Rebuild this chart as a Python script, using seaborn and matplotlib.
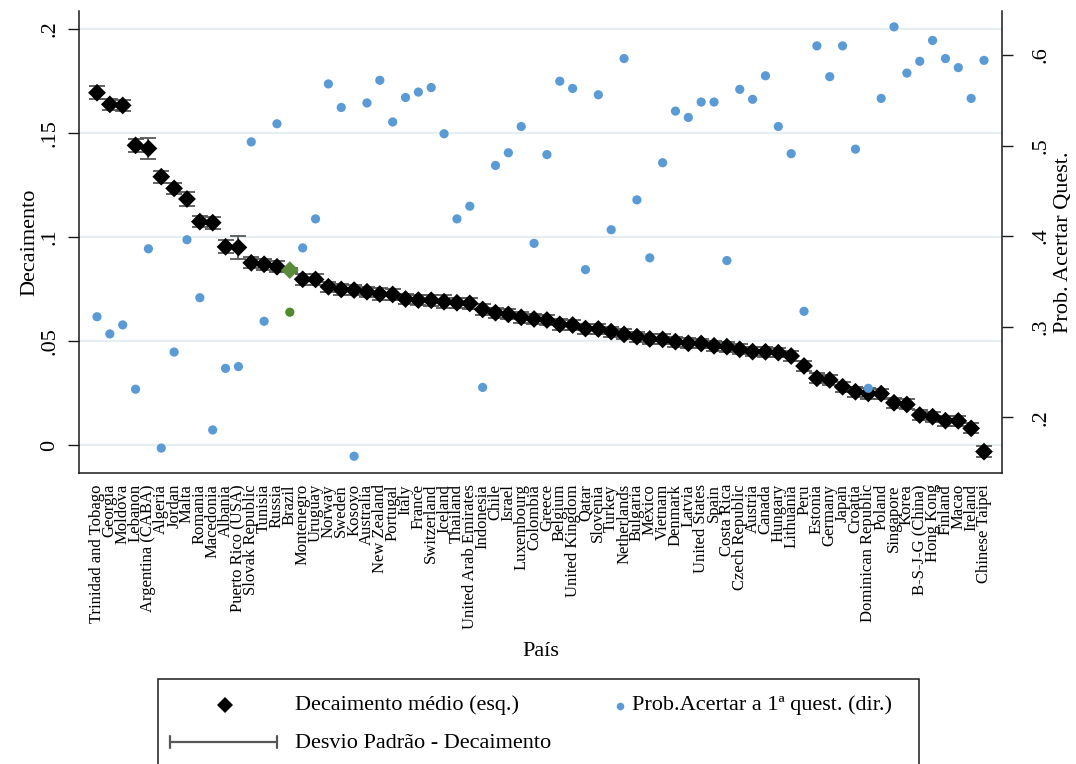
import numpy as np
import pandas as pd
import matplotlib
matplotlib.use("Agg")
import matplotlib.pyplot as plt
from matplotlib.lines import Line2D
from matplotlib.patches import Rectangle
import seaborn as sns

# ---- data ----
paises = [
    "Trinidad and Tobago", "Georgia", "Moldova", "Lebanon", "Argentina (CABA)",
    "Algeria", "Jordan", "Malta", "Romania", "Macedonia",
    "Albania", "Puerto Rico (USA)", "Slovak Republic", "Tunisia", "Russia",
    "Brazil", "Montenegro", "Uruguay", "Norway", "Sweden",
    "Kosovo", "Australia", "New Zealand", "Portugal", "Italy",
    "France", "Switzerland", "Iceland", "Thailand", "United Arab Emirates",
    "Indonesia", "Chile", "Israel", "Luxembourg", "Colombia",
    "Greece", "Belgium", "United Kingdom", "Qatar", "Slovenia",
    "Turkey", "Netherlands", "Bulgaria", "Mexico", "Vietnam",
    "Denmark", "Latvia", "United States", "Spain", "Costa Rica",
    "Czech Republic", "Austria", "Canada", "Hungary", "Lithuania",
    "Peru", "Estonia", "Germany", "Japan", "Croatia",
    "Dominican Republic", "Poland", "Singapore", "Korea", "B-S-J-G (China)",
    "Hong Kong", "Finland", "Macao", "Ireland", "Chinese Taipei",
]

decaimento = [
    0.1694, 0.1638, 0.1633, 0.1441, 0.1426,
    0.1290, 0.1234, 0.1183, 0.1074, 0.1069,
    0.0953, 0.0950, 0.0876, 0.0869, 0.0857,
    0.0841, 0.0797, 0.0796, 0.0761, 0.0748,
    0.0745, 0.0737, 0.0726, 0.0724, 0.0702,
    0.0697, 0.0696, 0.0689, 0.0684, 0.0681,
    0.0652, 0.0636, 0.0628, 0.0614, 0.0606,
    0.0601, 0.0580, 0.0577, 0.0560, 0.0558,
    0.0545, 0.0532, 0.0521, 0.0510, 0.0508,
    0.0497, 0.0489, 0.0488, 0.0477, 0.0473,
    0.0460, 0.0449, 0.0448, 0.0444, 0.0428,
    0.0380, 0.0321, 0.0313, 0.0280, 0.0256,
    0.0248, 0.0247, 0.0203, 0.0195, 0.0144,
    0.0136, 0.0117, 0.0116, 0.0080, -0.0032,
]

desvio = [
    0.0032, 0.0028, 0.0028, 0.0032, 0.0052,
    0.0030, 0.0028, 0.0032, 0.0028, 0.0028,
    0.0032, 0.0056, 0.0026, 0.0026, 0.0026,
    0.0008, 0.0026, 0.0026, 0.0025, 0.0025,
    0.0026, 0.0025, 0.0028, 0.0025, 0.0025,
    0.0025, 0.0026, 0.0030, 0.0025, 0.0025,
    0.0025, 0.0024, 0.0024, 0.0025, 0.0024,
    0.0024, 0.0025, 0.0024, 0.0024, 0.0024,
    0.0024, 0.0024, 0.0024, 0.0023, 0.0024,
    0.0024, 0.0024, 0.0023, 0.0024, 0.0024,
    0.0024, 0.0023, 0.0024, 0.0023, 0.0024,
    0.0023, 0.0024, 0.0023, 0.0024, 0.0024,
    0.0026, 0.0024, 0.0024, 0.0024, 0.0024,
    0.0024, 0.0024, 0.0024, 0.0024, 0.0025,
]

prob_acertar = [
    0.311, 0.292, 0.302, 0.231, 0.386,
    0.166, 0.272, 0.396, 0.332, 0.186,
    0.254, 0.256, 0.504, 0.306, 0.524,
    0.316, 0.387, 0.419, 0.568, 0.542,
    0.157, 0.547, 0.572, 0.526, 0.553,
    0.559, 0.564, 0.513, 0.419, 0.433,
    0.233, 0.478, 0.492, 0.521, 0.392,
    0.490, 0.571, 0.563, 0.363, 0.556,
    0.407, 0.596, 0.440, 0.376, 0.481,
    0.538, 0.531, 0.548, 0.548, 0.373,
    0.562, 0.551, 0.577, 0.521, 0.491,
    0.317, 0.610, 0.576, 0.610, 0.496,
    0.232, 0.552, 0.631, 0.580, 0.593,
    0.616, 0.596, 0.586, 0.552, 0.594,
]

destaque = "Brazil"

df = pd.DataFrame({
    "pais": paises,
    "decaimento": decaimento,
    "desvio": desvio,
    "prob": prob_acertar,
})
df["grupo"] = np.where(df["pais"] == destaque, "destaque", "outros")

# ---- style ----
sns.set_theme(style="white")
plt.rcParams["font.family"] = ["Liberation Serif", "DejaVu Serif"]

W, H = 1076, 764
fig = plt.figure(figsize=(W / 100, H / 100), dpi=100)
fig.patch.set_facecolor("white")

L, R, T, B = 79, 1002, 11, 473
ax = fig.add_axes([L / W, 1 - B / H, (R - L) / W, (B - T) / H])

BLUE = "#5b9bd5"
GREEN_D = "#5a8a3a"
GREEN_P = "#4f8a2f"
GRID = "#e6eef2"
BAR = "#585858"

# standard deviation bars
ax.errorbar(df["pais"], df["decaimento"], yerr=df["desvio"], fmt="none",
            ecolor=BAR, elinewidth=1.3, capsize=6, capthick=1.3, zorder=2)

# mean decay (left axis)
sns.scatterplot(data=df, x="pais", y="decaimento", hue="grupo",
                palette={"outros": "black", "destaque": GREEN_D},
                marker="D", s=82, edgecolor="none", linewidth=0,
                legend=False, ax=ax, zorder=3)

# probability of answering the first question (right axis)
ax2 = ax.twinx()
sns.scatterplot(data=df, x="pais", y="prob", hue="grupo",
                palette={"outros": BLUE, "destaque": GREEN_P},
                marker="o", s=44, edgecolor="none", linewidth=0,
                legend=False, ax=ax2, zorder=3)

n = len(paises)
ax.set_xlim(-1.4, n - 1 + 1.4)
ax.set_ylim(-0.01346, 0.2087)
ax2.set_ylim(0.1385, 0.6485)

# grid
ax.set_axisbelow(True)
ax.yaxis.grid(True, color=GRID, linewidth=1.6)
ax.xaxis.grid(False)
ax2.grid(False)

# spines
for a in (ax, ax2):
    a.spines["top"].set_visible(False)
    for s in ("left", "right", "bottom"):
        a.spines[s].set_color("#1a1a1a")
        a.spines[s].set_linewidth(1.1)
ax.spines["right"].set_visible(False)
ax2.spines["left"].set_visible(False)
ax2.spines["bottom"].set_visible(False)

# left axis ticks
ax.set_yticks([0, 0.05, 0.1, 0.15, 0.2])
ax.set_yticklabels(["0", ".05", ".1", ".15", ".2"], rotation=90, va="center")
ax.tick_params(axis="y", which="both", left=True, direction="out", length=8,
               width=1.0, color="#1a1a1a", pad=6, labelsize=16, labelcolor="black")

# right axis ticks
ax2.set_yticks([0.2, 0.3, 0.4, 0.5, 0.6])
ax2.set_yticklabels([".2", ".3", ".4", ".5", ".6"], rotation=90, va="center")
ax2.tick_params(axis="y", which="both", right=True, direction="out", length=8,
                width=1.0, color="#1a1a1a", pad=13, labelsize=16, labelcolor="black")

# x axis: country names
ax.set_xticks(range(n))
ax.set_xticklabels(paises, rotation=90, ha="center", va="top")
ax.tick_params(axis="x", length=0, pad=8, labelsize=12, labelcolor="black")

# axis titles
ax.set_ylabel("Decaimento", fontsize=16, color="black")
ax.yaxis.label.set_va("center")
ax.yaxis.set_label_coords((30 - L) / (R - L), 0.5)

ax2.set_ylabel("Prob. Acertar Quest.", fontsize=16, color="black")
ax2.yaxis.label.set_va("center")
ax2.yaxis.set_label_coords((1063 - L) / (R - L), 0.5)

ax.set_xlabel("País", fontsize=16, color="black")
ax.xaxis.label.set_va("center")
ax.xaxis.set_label_coords(0.5, -(652 - B) / (B - T))

# ---- legend box ----
def fx(x):
    return x / W


def fy(y):
    return 1 - y / H


fig.add_artist(Rectangle((fx(158), fy(775)), fx(919) - fx(158), fy(679) - fy(775),
                         transform=fig.transFigure, facecolor="white",
                         edgecolor="#1a1a1a", linewidth=1.1))

fig.add_artist(Line2D([fx(225)], [fy(705)], marker="D", markersize=8,
                      color="black", markeredgewidth=0, linestyle="none",
                      transform=fig.transFigure))
fig.text(fx(295), fy(705), "Decaimento médio (esq.)", fontsize=16,
         ha="left", va="center", color="black")

fig.add_artist(Line2D([fx(620)], [fy(706)], marker="o", markersize=5.5,
                      color=BLUE, markeredgewidth=0, linestyle="none",
                      transform=fig.transFigure))
fig.text(fx(632), fy(705), "Prob.Acertar a 1ª quest. (dir.)", fontsize=16,
         ha="left", va="center", color="black")

fig.add_artist(Line2D([fx(170), fx(277)], [fy(742), fy(742)], color=BAR,
                      linewidth=1.6, transform=fig.transFigure))
for xc in (170, 277):
    fig.add_artist(Line2D([fx(xc), fx(xc)], [fy(736), fy(748)], color=BAR,
                          linewidth=1.6, transform=fig.transFigure))
fig.text(fx(295), fy(743), "Desvio Padrão - Decaimento", fontsize=16,
         ha="left", va="center", color="black")

fig.savefig("out.png", dpi=100, facecolor="white")
